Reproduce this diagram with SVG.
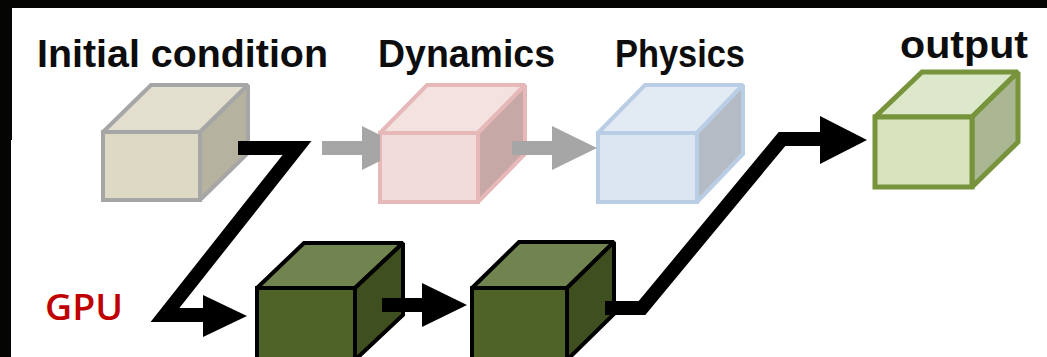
<svg xmlns="http://www.w3.org/2000/svg" width="1047" height="357" viewBox="0 0 1047 357">
<style>
.lbl{font-family:"Liberation Sans",Arial,sans-serif;font-weight:bold;font-size:38px;fill:#0d0d0d}
.gpu{font-family:"Open Sans","Liberation Sans",Arial,sans-serif;font-weight:600;font-size:36px;fill:#c00000}
.cube{stroke-linejoin:miter;stroke-miterlimit:2}
.c-init{stroke:#a6a6a6;stroke-width:4}
.c-dyn{stroke:#e6b9b8;stroke-width:4}
.c-phy{stroke:#b9cde5;stroke-width:4}
.c-out{stroke:#77933c;stroke-width:5}
.c-gpu{stroke:#000;stroke-width:4}
.gray{fill:#a6a6a6}
.blk{fill:#000}
.line{fill:none;stroke:#000;stroke-width:14;stroke-linejoin:miter;stroke-miterlimit:10}
</style>
<rect width="1047" height="357" fill="#fff"/>
<path d="M0 0H1047V8H12V140H11V357H0Z" fill="#050503"/>

<g id="label-initial"><text class="lbl" x="37" y="67" textLength="291" lengthAdjust="spacingAndGlyphs">Initial condition</text></g>
<g id="label-dynamics"><text class="lbl" x="378" y="67" textLength="177" lengthAdjust="spacingAndGlyphs">Dynamics</text></g>
<g id="label-physics"><text class="lbl" x="615" y="67" textLength="130" lengthAdjust="spacingAndGlyphs">Physics</text></g>
<g id="label-output"><text class="lbl" x="900" y="58" textLength="128" lengthAdjust="spacingAndGlyphs">output</text></g>
<g id="label-gpu"><text class="gpu" x="45" y="320" textLength="78" lengthAdjust="spacingAndGlyphs">GPU</text></g>

<g id="node-initial" class="cube c-init">
<polygon points="103,132 151,85 248,85 200,132" fill="#e2dfcf"/>
<polygon points="200,132 248,85 248,153 200,200" fill="#b5b29f"/>
<rect x="103" y="132" width="97" height="68" fill="#ddd9c4"/>
</g>
<g id="node-dynamics" class="cube c-dyn">
<polygon points="380,133 427,85 525,85 478,133" fill="#f4e2e1"/>
<polygon points="478,133 525,85 525,154 478,202" fill="#c6a8a7"/>
<rect x="380" y="133" width="98" height="69" fill="#f2dcdb"/>
</g>
<g id="node-physics" class="cube c-phy">
<polygon points="598,133 645,85 743,85 697,133" fill="#e2eaf4"/>
<polygon points="697,133 743,85 743,154 697,202" fill="#b4bbc5"/>
<rect x="598" y="133" width="99" height="69" fill="#dce6f2"/>
</g>
<g id="node-output" class="cube c-out">
<polygon points="875,117 922,72 1018,72 972,117" fill="#dde8cb"/>
<polygon points="972,117 1018,72 1018,142 972,187" fill="#abb692"/>
<rect x="875" y="117" width="97" height="70" fill="#d7e4bd"/>
</g>
<g id="node-gpu1" class="cube c-gpu">
<polygon points="257,288 304,243 403,243 355,288" fill="#71844f"/>
<polygon points="355,288 403,243 403,315 355,360" fill="#3f4f20"/>
<rect x="257" y="288" width="98" height="75" fill="#4f6228"/>
</g>
<g id="node-gpu2" class="cube c-gpu">
<polygon points="472,288 519,242 614,242 567,288" fill="#71844f"/>
<polygon points="567,288 614,242 614,314 567,360" fill="#3f4f20"/>
<rect x="472" y="288" width="95" height="75" fill="#4f6228"/>
</g>

<g id="connectors">
<polygon class="gray" points="322,141 362,141 362,126 380,135 380,161 362,170 362,155 322,155"/>
<polygon class="gray" points="512,141 552,141 552,126 597,148 552,170 552,155 512,155"/>
<path class="line" d="M238 148H297L165 315H206"/>
<polygon class="blk" points="203,295 247,316 203,337"/>
<path class="line" d="M382 305H424"/>
<polygon class="blk" points="422,283 467,305 422,327"/>
<path class="line" d="M605 308H642L782 139H822"/>
<polygon class="blk" points="820,116 867,140 820,164"/>
</g>
</svg>
